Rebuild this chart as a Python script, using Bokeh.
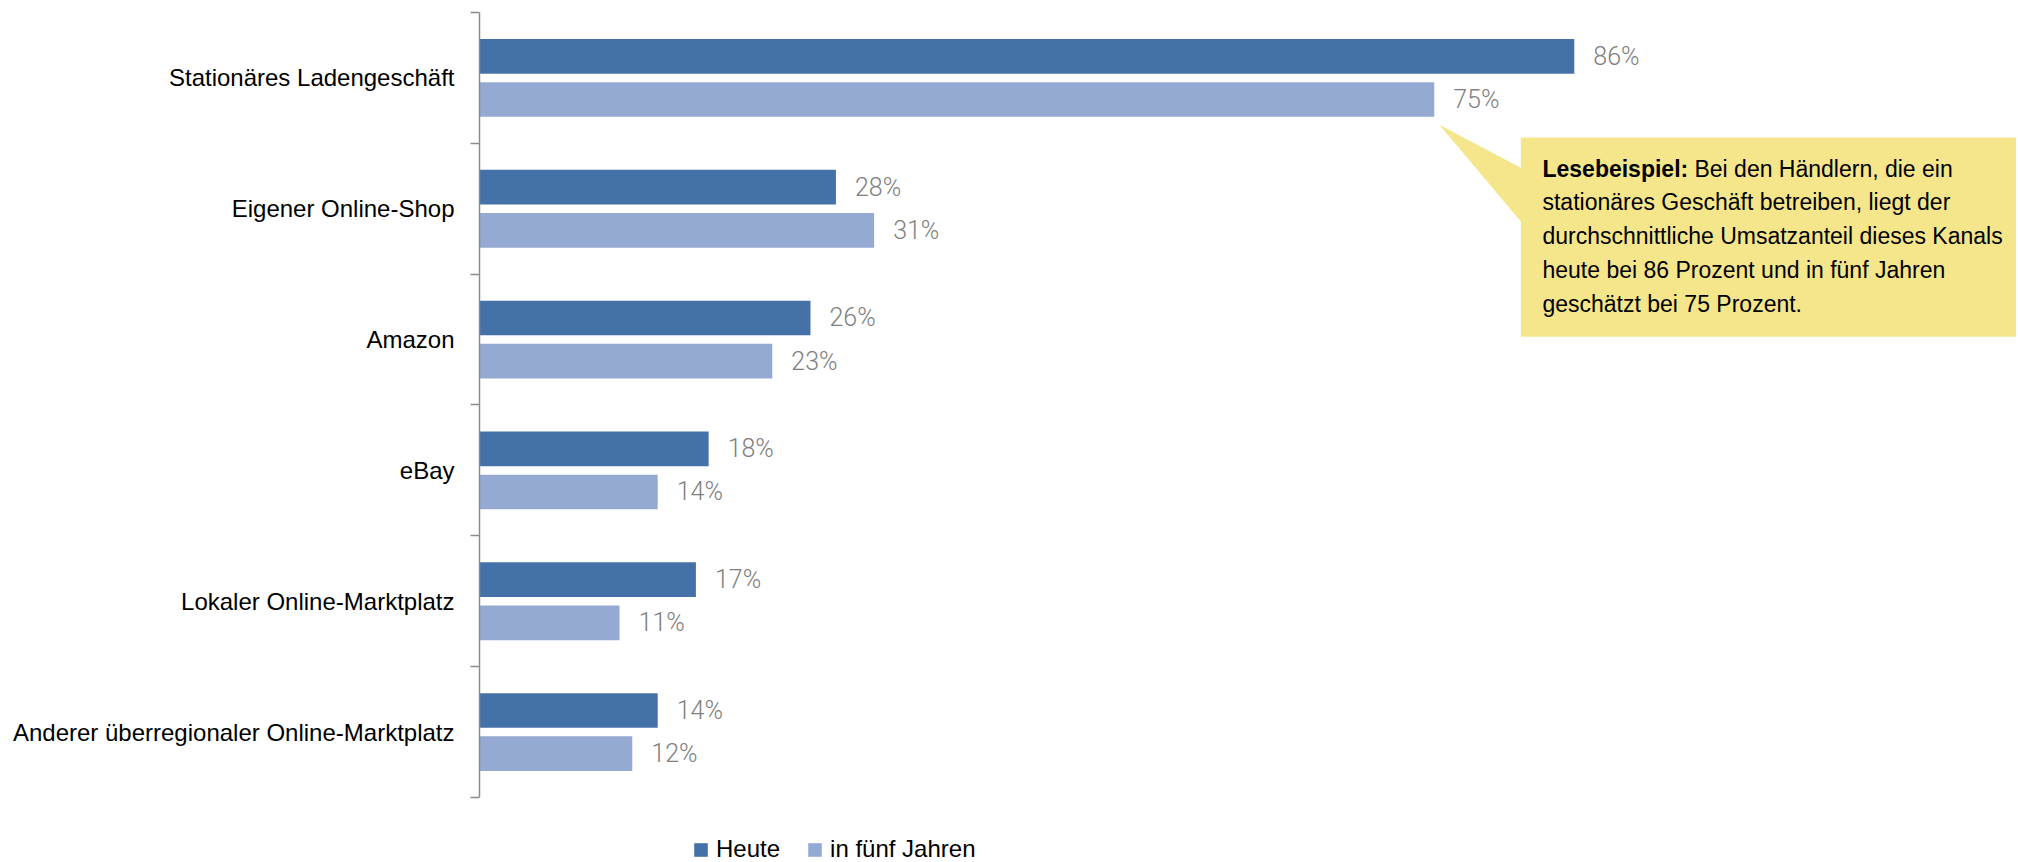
import numpy as np
from bokeh.plotting import figure
from bokeh.models import ColumnDataSource, Range1d, FixedTicker, Legend, LegendItem
from bokeh.core.properties import value
from bokeh.embed import file_html
from bokeh.resources import INLINE

# ---------------- data ----------------
categories = [
    "Stationäres Ladengeschäft",
    "Eigener Online-Shop",
    "Amazon",
    "eBay",
    "Lokaler Online-Marktplatz",
    "Anderer überregionaler Online-Marktplatz",
]
heute = [86, 28, 26, 18, 17, 14]
in_fuenf_jahren = [75, 31, 23, 14, 11, 12]
series_names = ["Heute", "in fünf Jahren"]
callout_bold = "Lesebeispiel:"
callout_lines = [
    "Bei den Händlern, die ein",
    "stationäres Geschäft betreiben, liegt der",
    "durchschnittliche Umsatzanteil dieses Kanals",
    "heute bei 86 Prozent und in fünf Jahren",
    "geschätzt bei 75 Prozent.",
]

# ---------------- styles ----------------
C_HEUTE = "#4472A8"
C_FUTURE = "#95AAD2"
C_AXIS = "#8C8C8C"
C_VALUE = "#808080"
C_CALLOUT = "#F5E68C"
FONT = "Liberation Sans"
VALUE_FONT = "Roboto Light"

n = len(categories)
idx = np.arange(n)
centers = idx + 0.5
off = 0.165
bar_h = 0.265

W = 2018
H = 862
TOP = 12
LEFT = 479
BAND_PX = 130.83
PX_PER_PCT = 12.73
y_extent = (H - TOP) / BAND_PX          # frame reaches the bottom of the figure
x_extent = (W - LEFT) / PX_PER_PCT

src_h = ColumnDataSource(dict(y=centers - off, v=heute,
                              lab=[f"{v}%" for v in heute]))
src_f = ColumnDataSource(dict(y=centers + off, v=in_fuenf_jahren,
                              lab=[f"{v}%" for v in in_fuenf_jahren]))

p = figure(width=W, height=H, output_backend="svg", toolbar_location=None,
           x_range=Range1d(0, x_extent), y_range=Range1d(y_extent, 0),
           min_border_left=LEFT, min_border_right=0, min_border_top=TOP,
           min_border_bottom=0)
p.outline_line_color = None
p.xgrid.visible = False
p.ygrid.visible = False
p.xaxis.visible = False
p.background_fill_color = "white"

# callout (drawn first, behind bars/labels)
ax = in_fuenf_jahren[0]
ay = centers[0] + off + bar_h / 2
bx0, bx1 = ax + 6.8, ax + 45.7
by0, by1 = ay + 0.157, ay + 1.68
cx = [bx0, bx1, bx1, bx0, bx0, ax + 0.4, bx0]
cy = [by0, by0, by1, by1, ay + 0.80, ay + 0.06, ay + 0.39]
p.patch(cx, cy, fill_color=C_CALLOUT, line_color=None)

r_h = p.hbar(y="y", right="v", left=0, height=bar_h, source=src_h,
             fill_color=C_HEUTE, line_color=None)
r_f = p.hbar(y="y", right="v", left=0, height=bar_h, source=src_f,
             fill_color=C_FUTURE, line_color=None)

for s in (src_h, src_f):
    p.text(x="v", y="y", text="lab", source=s, x_offset=19,
           text_baseline="middle", text_align="left",
           text_font=value(VALUE_FONT), text_font_size="25px",
           text_color=C_VALUE)

# callout text
tx = ax + 8.5
ty0 = ay + 0.395
step = 0.2590
line_y = [ty0 + i * step for i in range(len(callout_lines))]
p.text(x=[tx], y=[line_y[0]], text=[callout_bold], text_font=value(FONT),
       text_font_size="23px", text_font_style="bold", text_color="black",
       text_baseline="middle", text_align="left")
x_offs = [152] + [0] * (len(callout_lines) - 1)
p.text(x=[tx] * len(callout_lines), y=line_y, text=callout_lines,
       x_offset=x_offs, text_font=value(FONT), text_font_size="23px",
       text_color="black", text_baseline="middle", text_align="left")

# y axis: labels at category centres, ticks at band boundaries
yax = p.yaxis[0]
yax.bounds = (0, n)
yax.ticker = FixedTicker(ticks=list(centers), minor_ticks=list(range(n + 1)))
yax.major_label_overrides = {float(c): cat for c, cat in zip(centers, categories)}
yax.major_tick_out = 0
yax.major_tick_in = 0
yax.major_tick_line_color = None
yax.minor_tick_out = 9
yax.minor_tick_in = 0
yax.minor_tick_line_color = C_AXIS
yax.minor_tick_line_width = 1.5
yax.axis_line_color = C_AXIS
yax.axis_line_width = 1.5
yax.major_label_standoff = 16
yax.major_label_text_font = FONT
yax.major_label_text_font_size = "24px"
yax.major_label_text_color = "black"

legend = Legend(items=[LegendItem(label=series_names[0], renderers=[r_h]),
                       LegendItem(label=series_names[1], renderers=[r_f])],
                orientation="horizontal", location=(213, -1))
legend.glyph_width = 17
legend.glyph_height = 17
legend.label_height = 17
legend.label_standoff = 7
legend.spacing = 26
legend.padding = 0
legend.margin = 0
legend.border_line_color = None
legend.background_fill_alpha = 0
legend.label_text_font = FONT
legend.label_text_font_size = "24px"
legend.label_text_color = "black"
p.add_layout(legend, "center")

open("out.html", "w").write(file_html(p, INLINE))
